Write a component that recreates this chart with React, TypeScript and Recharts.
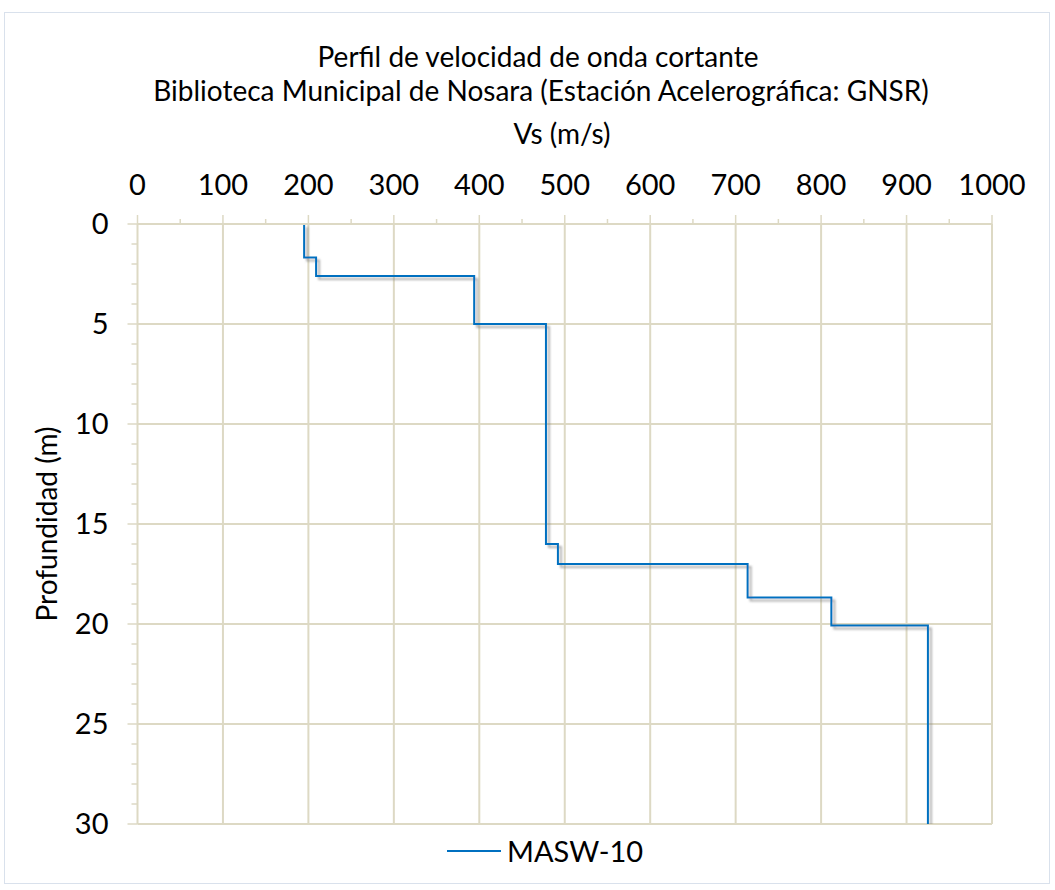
import React from "react";
import { LineChart, Line, XAxis, YAxis, ReferenceLine, Legend } from "recharts";

// Layer tops (m) and shear-wave velocities (m/s) read from the profile
const LAYER_TOPS = [0, 1.68, 2.6, 5, 16, 17, 18.67, 20.08];
const LAYER_VS = [195, 209, 394, 478, 492, 714, 812, 925];
const MAX_DEPTH = 30;

const X_MAJOR = [0, 100, 200, 300, 400, 500, 600, 700, 800, 900, 1000];
const X_MINOR = [50, 150, 250, 350, 450, 550, 650, 750, 850, 950];
const Y_MAJOR = [0, 5, 10, 15, 20, 25, 30];
const Y_MINOR = [1, 2, 3, 4, 6, 7, 8, 9, 11, 12, 13, 14, 16, 17, 18, 19, 21, 22, 23, 24, 26, 27, 28, 29];

const SERIES_NAME = "MASW-10";
const TITLE_1 = "Perfil de velocidad de onda cortante";
const TITLE_2 = "Biblioteca Municipal de Nosara (Estación Acelerográfica: GNSR)";
const X_TITLE = "Vs (m/s)";
const Y_TITLE = "Profundidad (m)";

// Build the step profile table from the layers
const profile: { vs: number; depth: number }[] = [];
LAYER_VS.forEach((v, i) => {
  const top = LAYER_TOPS[i];
  const bottom = i + 1 < LAYER_TOPS.length ? LAYER_TOPS[i + 1] : MAX_DEPTH;
  profile.push({ vs: v, depth: top });
  profile.push({ vs: v, depth: bottom });
});

const GRID = "#DDD9C4";
const FONT = "Lato, 'Open Sans', sans-serif";
const TSX = 10;
const TMX = 19;
const TSY = 10;
const TMY = 19;

const XTick = (props: any) => {
  const { x, y, payload } = props;
  const axisY = y + TSX + TMX;
  const major = payload.value % 100 === 0;
  return (
    <g>
      <line x1={x} x2={x} y1={axisY} y2={axisY - (major ? 9 : 5)} stroke={GRID} strokeWidth={1.5} />
      {major && (
        <text x={x} y={y} textAnchor="middle" fontSize={29} fontFamily={FONT} fill="#000">
          {payload.value}
        </text>
      )}
    </g>
  );
};

const YTick = (props: any) => {
  const { x, y, payload } = props;
  const axisX = x + TSY + TMY;
  const major = payload.value % 5 === 0;
  return (
    <g>
      <line x1={axisX} x2={axisX - (major ? 10 : 6)} y1={y} y2={y} stroke={GRID} strokeWidth={1.5} />
      {major && (
        <text x={x} y={y} dy="0.36em" textAnchor="end" fontSize={29} fontFamily={FONT} fill="#000">
          {payload.value}
        </text>
      )}
    </g>
  );
};

const LegendContent = () => (
  <div style={{ display: "flex", alignItems: "center", fontFamily: FONT, fontSize: 29, color: "#000" }}>
    <svg width={60} height={20} style={{ display: "block" }}>
      <line x1={0} x2={54} y1={10} y2={10} stroke="#0070C0" strokeWidth={2} />
    </svg>
    <span>{SERIES_NAME}</span>
  </div>
);

export default function App() {
  const xTicks = [...X_MAJOR, ...X_MINOR].sort((a, b) => a - b);
  const yTicks = [...Y_MAJOR, ...Y_MINOR].sort((a, b) => a - b);
  return (
    <div style={{ position: "absolute", left: 0, top: 0, width: 1055, height: 890, background: "#fff" }}>
      <style>{`.shadow-line path { filter: url(#lineShadow); }`}</style>
      <svg width={0} height={0} style={{ position: "absolute" }}>
        <defs>
          <filter id="lineShadow" x="-10%" y="-10%" width="120%" height="120%">
            <feDropShadow dx="3" dy="3" stdDeviation="0.9" floodColor="#7a7a7a" floodOpacity="0.6" />
          </filter>
        </defs>
      </svg>
      <div
        style={{
          position: "absolute",
          left: 4,
          top: 12,
          width: 1046,
          height: 872,
          border: "1px solid #D9E1EC",
          boxSizing: "border-box",
        }}
      />
      <div style={{ position: "absolute", left: 0, top: 0 }}>
        <LineChart
          width={1055}
          height={890}
          data={profile}
          margin={{ top: 184, left: 77.5, right: 63, bottom: 66 }}
        >
          <XAxis
            xAxisId={0}
            orientation="top"
            type="number"
            dataKey="vs"
            domain={[0, 1000]}
            ticks={xTicks}
            interval={0}
            height={40}
            tickSize={TSX}
            tickMargin={TMX}
            tickLine={{ stroke: "none" }}
            axisLine={{ stroke: GRID, strokeWidth: 2 }}
            tick={<XTick />}
            allowDataOverflow
          />
          <YAxis
            yAxisId={0}
            type="number"
            dataKey="depth"
            domain={[0, 30]}
            reversed
            ticks={yTicks}
            interval={0}
            width={60}
            tickSize={TSY}
            tickMargin={TMY}
            tickLine={{ stroke: "none" }}
            axisLine={{ stroke: GRID, strokeWidth: 2 }}
            tick={<YTick />}
            allowDataOverflow
          />
          {X_MAJOR.filter((v) => v !== 0).map((v) => (
            <ReferenceLine key={"x" + v} x={v} stroke={GRID} strokeWidth={2} ifOverflow="extendDomain" />
          ))}
          {Y_MAJOR.filter((v) => v !== 0).map((v) => (
            <ReferenceLine key={"y" + v} y={v} stroke={GRID} strokeWidth={2} ifOverflow="extendDomain" />
          ))}
          <Line
            className="shadow-line"
            type="linear"
            dataKey="depth"
            name={SERIES_NAME}
            stroke="#0070C0"
            strokeWidth={2}
            dot={false}
            activeDot={false}
            isAnimationActive={false}
          />
          <Legend
            layout="horizontal"
            verticalAlign="middle"
            align="center"
            content={<LegendContent />}
            wrapperStyle={{ position: "absolute", left: 447, top: 833, width: "auto" }}
          />
        </LineChart>
      </div>
      <svg
        width={1055}
        height={890}
        style={{ position: "absolute", left: 0, top: 0, pointerEvents: "none" }}
      >
        <text x={538} y={67} textAnchor="middle" fontSize={28} fontFamily={FONT} fill="#000">
          {TITLE_1}
        </text>
        <text x={541} y={101} textAnchor="middle" fontSize={28} fontFamily={FONT} fill="#000">
          {TITLE_2}
        </text>
        <text x={562} y={144} textAnchor="middle" fontSize={28} fontFamily={FONT} fill="#000">
          {X_TITLE}
        </text>
        <text
          x={57}
          y={524}
          transform="rotate(-90 57 524)"
          textAnchor="middle"
          fontSize={28}
          fontFamily={FONT}
          fill="#000"
        >
          {Y_TITLE}
        </text>
      </svg>
    </div>
  );
}
